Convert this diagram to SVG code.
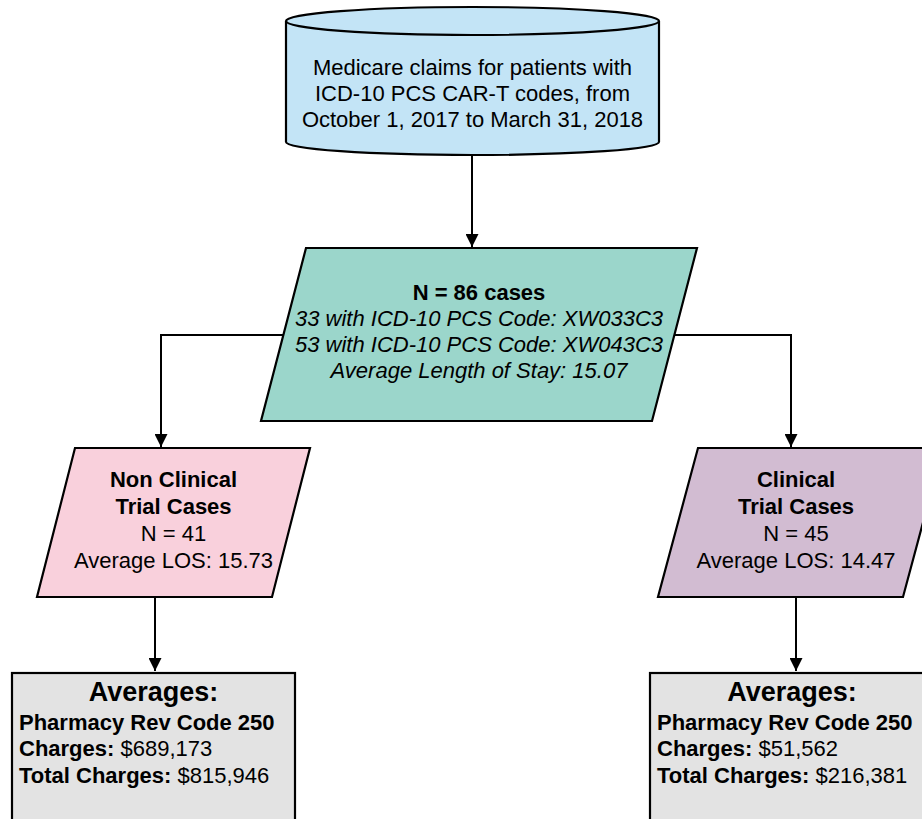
<svg xmlns="http://www.w3.org/2000/svg" width="922" height="819" viewBox="0 0 922 819">
<defs>
<marker id="arr" viewBox="0 0 10 10" refX="10" refY="5" markerWidth="7" markerHeight="6.5" orient="auto" markerUnits="strokeWidth">
<path d="M0,0 L10,5 L0,10 z" fill="#000"/>
</marker>
<style>
.s{stroke:#000;stroke-width:2.2;}
.t{font-family:"Liberation Sans",Arial,sans-serif;font-size:22px;fill:#000;}
.c{text-anchor:middle;}
.b{font-weight:bold;}
.i{font-style:italic;}
.h{font-size:27px;}
.e{fill:none;stroke:#000;stroke-width:2;}
</style>
</defs>
<rect width="922" height="819" fill="#fff"/>
<g id="connectors">
<line class="e" x1="472" y1="156" x2="472" y2="247" marker-end="url(#arr)"/>
<polyline class="e" points="285,335 161,335 161,447" marker-end="url(#arr)"/>
<polyline class="e" points="672,335 791,335 791,447" marker-end="url(#arr)"/>
<line class="e" x1="155" y1="598" x2="155" y2="671" marker-end="url(#arr)"/>
<line class="e" x1="796" y1="598" x2="796" y2="671" marker-end="url(#arr)"/>
</g>
<g id="source">
<path class="s" fill="#c3e4f6" d="M286,21 L286,142 A186.5,13 0 0 0 659,142 L659,21 A186.5,14 0 0 0 286,21 Z"/>
<path class="s" fill="none" d="M286,21 A186.5,14 0 0 0 659,21"/>
<text class="t c" x="472.5" y="75">Medicare claims for patients with</text>
<text class="t c" x="472.5" y="101">ICD-10 PCS CAR-T codes, from</text>
<text class="t c" x="472.5" y="127">October 1, 2017 to March 31, 2018</text>
</g>
<g id="all-cases">
<polygon class="s" fill="#9bd6cb" points="306,248 697,248 652,421 261,421"/>
<text class="t c b" x="479" y="300">N = 86 cases</text>
<text class="t c i" x="479" y="326">33 with ICD-10 PCS Code: XW033C3</text>
<text class="t c i" x="479" y="352">53 with ICD-10 PCS Code: XW043C3</text>
<text class="t c i" x="479" y="378">Average Length of Stay: 15.07</text>
</g>
<g id="non-clinical">
<polygon class="s" fill="#f9d0dc" points="75,448 310,448 272,597 37,597"/>
<text class="t c b" x="173.5" y="487">Non Clinical</text>
<text class="t c b" x="173.5" y="514">Trial Cases</text>
<text class="t c" x="173.5" y="541">N = 41</text>
<text class="t c" x="173.5" y="568">Average LOS: 15.73</text>
</g>
<g id="clinical">
<polygon class="s" fill="#d2bcd2" points="698,448 943,448 903,597 658,597"/>
<text class="t c b" x="796" y="487">Clinical</text>
<text class="t c b" x="796" y="514">Trial Cases</text>
<text class="t c" x="796" y="541">N = 45</text>
<text class="t c" x="796" y="568">Average LOS: 14.47</text>
</g>
<g id="non-clinical-averages">
<rect class="s" fill="#e3e3e3" x="12" y="673" width="283" height="160"/>
<text class="t c b h" x="153.5" y="701">Averages:</text>
<text class="t b" x="19" y="730">Pharmacy Rev Code 250</text>
<text class="t" x="19" y="756"><tspan class="b">Charges:</tspan> $689,173</text>
<text class="t" x="19" y="783"><tspan class="b">Total Charges:</tspan> $815,946</text>
</g>
<g id="clinical-averages">
<rect class="s" fill="#e3e3e3" x="650" y="673" width="283" height="160"/>
<text class="t c b h" x="792" y="701">Averages:</text>
<text class="t b" x="657" y="730">Pharmacy Rev Code 250</text>
<text class="t" x="657" y="756"><tspan class="b">Charges:</tspan> $51,562</text>
<text class="t" x="657" y="783"><tspan class="b">Total Charges:</tspan> $216,381</text>
</g>
</svg>
